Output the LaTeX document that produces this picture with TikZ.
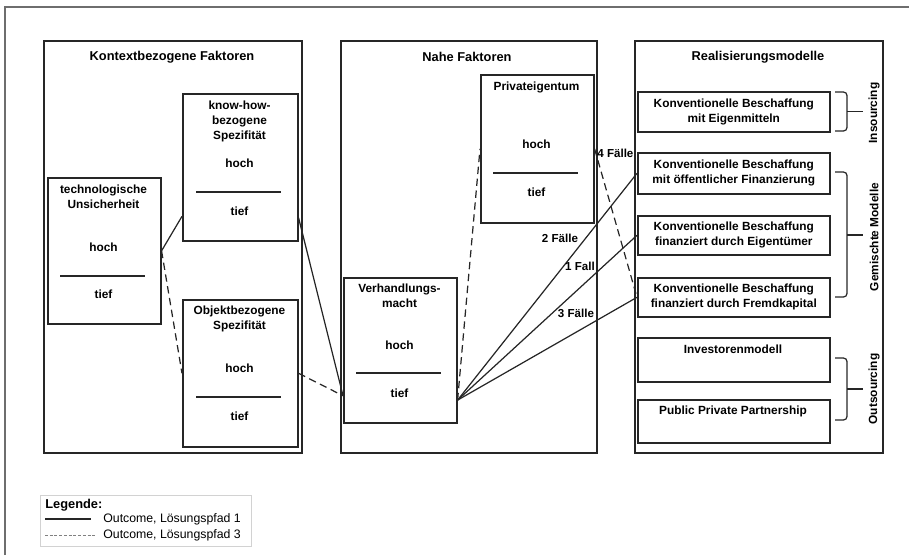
\documentclass[tikz,border=0pt]{standalone}
\usepackage{fontspec}
\setmainfont{Liberation Sans}
\usetikzlibrary{calc}
\definecolor{ink}{HTML}{262626}
\definecolor{frame}{HTML}{6E6E6E}
\begin{document}
\begin{tikzpicture}[x=0.02cm,y=-0.02cm,
  panel/.style={draw=ink, line width=0.9pt, inner sep=0pt, anchor=north west},
  fbox/.style={draw=ink, line width=0.9pt, inner sep=0pt, anchor=north west},
  ttl/.style={font=\fontsize{7.3}{8.8}\selectfont\bfseries, inner sep=0pt},
  txt/.style={font=\fontsize{6.75}{8.6}\selectfont\bfseries, align=center, inner sep=0pt},
  lbl/.style={font=\fontsize{6.6}{8}\selectfont\bfseries, inner sep=0pt},
  legtxt/.style={font=\fontsize{7}{8.5}\selectfont, inner sep=0pt, anchor=west},
  sepline/.style={draw=ink, line width=0.8pt},
  conn/.style={draw=ink, line width=0.7pt},
  dconn/.style={conn, dash pattern=on 4.2pt off 2.6pt},
  brace/.style={draw=ink, line width=0.7pt, rounded corners=2pt},
]
\useasboundingbox (0,0) rectangle (909,555);
% outer frame (cropped)
\draw[frame, line width=0.7pt] (5,555) -- (5,7) -- (909,7);

% panels
\node[panel, minimum width=258*0.02cm, minimum height=412*0.02cm] (LP) at (43,40) {};
\node[panel, minimum width=256*0.02cm, minimum height=412*0.02cm] (MP) at (340,40) {};
\node[panel, minimum width=248*0.02cm, minimum height=412*0.02cm] (RP) at (634,40) {};
\node[ttl] (LPt) at (172,57) {Kontextbezogene Faktoren};
\node[ttl] (MPt) at (467,57) {Nahe Faktoren};
\node[ttl] (RPt) at (758,57) {Realisierungsmodelle};

% factor boxes
\node[fbox, minimum width=113*0.02cm, minimum height=146*0.02cm] (tu) at (47,177) {};
\node[fbox, minimum width=115*0.02cm, minimum height=147*0.02cm] (kh) at (182,93) {};
\node[fbox, minimum width=115*0.02cm, minimum height=147*0.02cm] (ob) at (182,299) {};
\node[fbox, minimum width=113*0.02cm, minimum height=148*0.02cm] (pe) at (480,74) {};
\node[fbox, minimum width=113*0.02cm, minimum height=145*0.02cm] (vm) at (343,277) {};

% texts in factor boxes
\node[txt] (tut) at (103.5,196.5) {technologische\\Unsicherheit};
\node[txt] (tuh) at (103.5,247) {hoch};
\draw[sepline] (60,276) -- (145,276);
\node[txt] (tul) at (103.5,294) {tief};

\node[txt] (kht) at (239.5,121.5) {know-how-\\bezogene\\Spezifität};
\node[txt] (khh) at (239.5,163) {hoch};
\draw[sepline] (196,192) -- (281,192);
\node[txt] (khl) at (239.5,211) {tief};

\node[txt] (obt) at (239.5,318.5) {Objektbezogene\\Spezifität};
\node[txt] (obh) at (239.5,368) {hoch};
\draw[sepline] (196,397) -- (281,397);
\node[txt] (obl) at (239.5,416) {tief};

\node[txt] (pet) at (536.5,87) {Privateigentum};
\node[txt] (peh) at (536.5,144) {hoch};
\draw[sepline] (493,173) -- (578,173);
\node[txt] (pel) at (536.5,192) {tief};

\node[txt] (vmt) at (399.5,295.5) {Verhandlungs-\\macht};
\node[txt] (vmh) at (399.5,345) {hoch};
\draw[sepline] (356,373) -- (441,373);
\node[txt] (vml) at (399.5,393) {tief};

% model boxes
\node[fbox, minimum width=192*0.02cm, minimum height=40*0.02cm] (b1) at (637,91) {};
\node[fbox, minimum width=192*0.02cm, minimum height=41*0.02cm] (b2) at (637,152) {};
\node[fbox, minimum width=192*0.02cm, minimum height=39*0.02cm] (b3) at (637,215) {};
\node[fbox, minimum width=192*0.02cm, minimum height=39*0.02cm] (b4) at (637,277) {};
\node[fbox, minimum width=192*0.02cm, minimum height=44*0.02cm] (b5) at (637,337) {};
\node[fbox, minimum width=192*0.02cm, minimum height=43*0.02cm] (b6) at (637,399) {};
\node[txt] (b1t) at (b1.center) {Konventionelle Beschaffung\\mit Eigenmitteln};
\node[txt] (b2t) at (b2.center) {Konventionelle Beschaffung\\mit öffentlicher Finanzierung};
\node[txt] (b3t) at (b3.center) {Konventionelle Beschaffung\\finanziert durch Eigentümer};
\node[txt] (b4t) at (b4.center) {Konventionelle Beschaffung\\finanziert durch Fremdkapital};
\node[txt] (b5t) at (733,349) {Investorenmodell};
\node[txt] (b6t) at (733,411) {Public Private Partnership};

% braces
\draw[brace] (835,92) -- (847,92) -- (847,131) -- (835,131);
\draw[brace] (847,111.5) -- (863,111.5);
\draw[brace] (835,172) -- (847,172) -- (847,297) -- (835,297);
\draw[brace] (847,235) -- (863,235);
\draw[brace] (835,358) -- (847,358) -- (847,420) -- (835,420);
\draw[brace] (847,389) -- (863,389);
\node[txt, rotate=90] (ins) at (874,113) {Insourcing};
\node[txt, rotate=90] (gem) at (874,237) {Gemischte Modelle};
\node[txt, rotate=90] (out) at (874,389) {Outsourcing};

% attachment points
\coordinate (khL) at ($(kh.north west)!0.83!(kh.south west)$);
\coordinate (khR) at ($(kh.north east)!0.84!(kh.south east)$);
\coordinate (vmL) at ($(vm.north west)!0.81!(vm.south west)$);
\coordinate (vmR) at ($(vm.north east)!0.84!(vm.south east)$);

% connectors
\draw[conn] (tu.east) -- (khL);
\draw[dconn] (tu.east) -- (ob.west);
\draw[conn] (khR) -- (vmL);
\draw[dconn] (ob.east) -- (vmL);
\draw[dconn] (vmR) -- (pe.west);
\draw[dconn] (pe.east) -- (b4.west);
\draw[conn] (vmR) -- (b2.west);
\draw[conn] (vmR) -- (b3.west);
\draw[conn] (vmR) -- (b4.west);

% connector labels
\node[lbl, anchor=west] (l4) at (597,153) {4 Fälle};
\node[lbl] (l2) at (560,238) {2 Fälle};
\node[lbl] (l1) at (580,266) {1 Fall};
\node[lbl] (l3) at (576,313) {3 Fälle};

% legend
\node[draw=gray!35, line width=0.5pt, inner sep=0pt, anchor=north west,
      minimum width=211*0.02cm, minimum height=51*0.02cm] (leg) at (40,495) {};
\node[font=\fontsize{7.3}{8.8}\selectfont\bfseries, inner sep=0pt, anchor=west] (legt) at (45,505) {Legende:};
\coordinate (s1a) at (45,519);
\coordinate (s1b) at (91,519);
\draw[draw=ink, line width=0.8pt] (s1a) -- (s1b);
\node[legtxt] (leg1) at (103,519) {Outcome, Lösungspfad 1};
\coordinate (s2a) at (45,535);
\coordinate (s2b) at (95,535);
\draw[draw=gray, line width=0.5pt, dash pattern=on 1.6pt off 1.1pt] (s2a) -- (s2b);
\node[legtxt] (leg2) at (103,535) {Outcome, Lösungspfad 3};
\end{tikzpicture}
\end{document}
